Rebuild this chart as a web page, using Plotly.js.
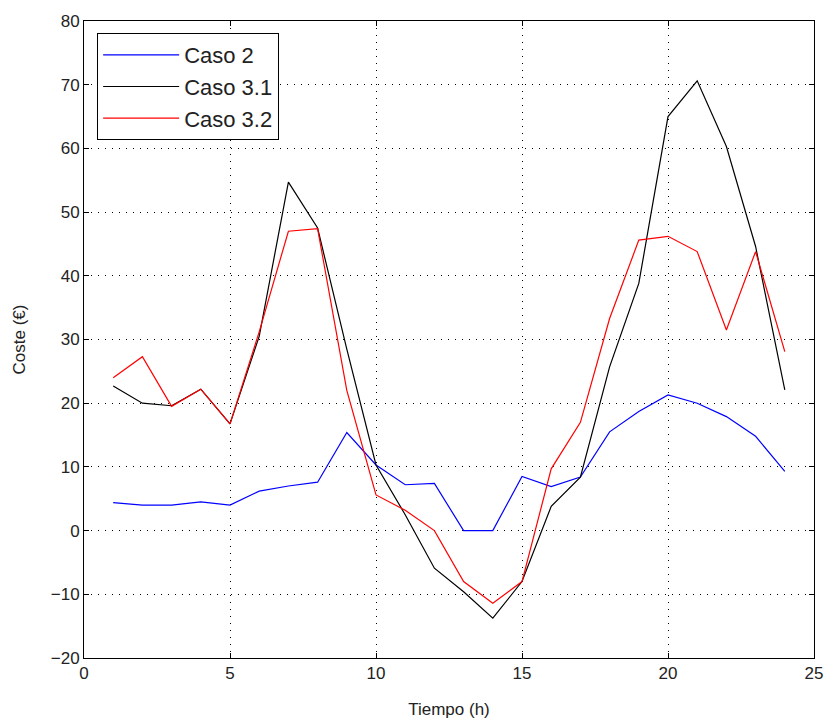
<!DOCTYPE html>
<html><head><meta charset="utf-8">
<script src="https://cdn.plot.ly/plotly-3.0.1.min.js"></script>
<style>body{margin:0;background:#fff}#c{width:827px;height:727px}</style>
</head><body><div id="c"></div>
<script>
const hours = [1,2,3,4,5,6,7,8,9,10,11,12,13,14,15,16,17,18,19,20,21,22,23,24];
const caso2 = [4.4,4.0,4.0,4.5,4.0,6.2,7.0,7.6,15.4,10.3,7.2,7.4,0,0,8.5,6.9,8.4,15.5,18.7,21.3,20.0,17.9,14.8,9.3];
const caso31 = [22.7,20.0,19.6,22.2,16.75,30.5,54.7,47.5,28.5,10.3,2.5,-5.9,-9.6,-13.75,-8.0,3.8,8.4,25.7,38.8,65.0,70.6,60.3,44.6,22.1];
const caso32 = [24.0,27.3,19.5,22.2,16.75,31.2,47.0,47.4,22.0,5.6,3.2,0,-8.0,-11.4,-8.0,9.7,17.0,33.3,45.6,46.2,43.8,31.5,43.8,28.1];
const names = ["Caso 2","Caso 3.1","Caso 3.2"];
const xTicks = [0,5,10,15,20,25];
const yTicks = [-20,-10,0,10,20,30,40,50,60,70,80];

const F = 'Liberation Sans, Arial, sans-serif';
const traces = [
  {x:hours,y:caso2,name:names[0],mode:'lines',line:{color:'#0000ff',width:1.2}},
  {x:hours,y:caso31,name:names[1],mode:'lines',line:{color:'#000000',width:1.2}},
  {x:hours,y:caso32,name:names[2],mode:'lines',line:{color:'#ff0000',width:1.2}}
];
const ax = {
  showline:true, linecolor:'#000', linewidth:1, mirror:'allticks',
  ticks:'inside', ticklen:5, tickcolor:'#000',
  showgrid:true, gridcolor:'#000', griddash:'1px,6px', gridwidth:1,
  zeroline:false, tickfont:{family:F,size:17,color:'#222'}
};
const layout = {
  width:827,height:727,
  margin:{l:84,r:13,t:21,b:69},
  paper_bgcolor:'#fff',plot_bgcolor:'#fff',
  showlegend:true,
  legend:{x:0.018,y:0.981,xanchor:'left',yanchor:'top',bgcolor:'#fff',bordercolor:'#000',borderwidth:1,
    itemwidth:76,font:{family:F,size:22,color:'#222'},tracegroupgap:0},
  xaxis:Object.assign({},ax,{range:[0,25],tickvals:xTicks,
    title:{text:'Tiempo (h)',font:{family:F,size:17,color:'#222'},standoff:20}}),
  yaxis:Object.assign({},ax,{range:[-20,80],tickvals:yTicks,
    title:{text:'Coste (€)',font:{family:F,size:17,color:'#222'},standoff:20}})
};
Plotly.newPlot('c',traces,layout,{displayModeBar:false,staticPlot:true});
</script></body></html>
